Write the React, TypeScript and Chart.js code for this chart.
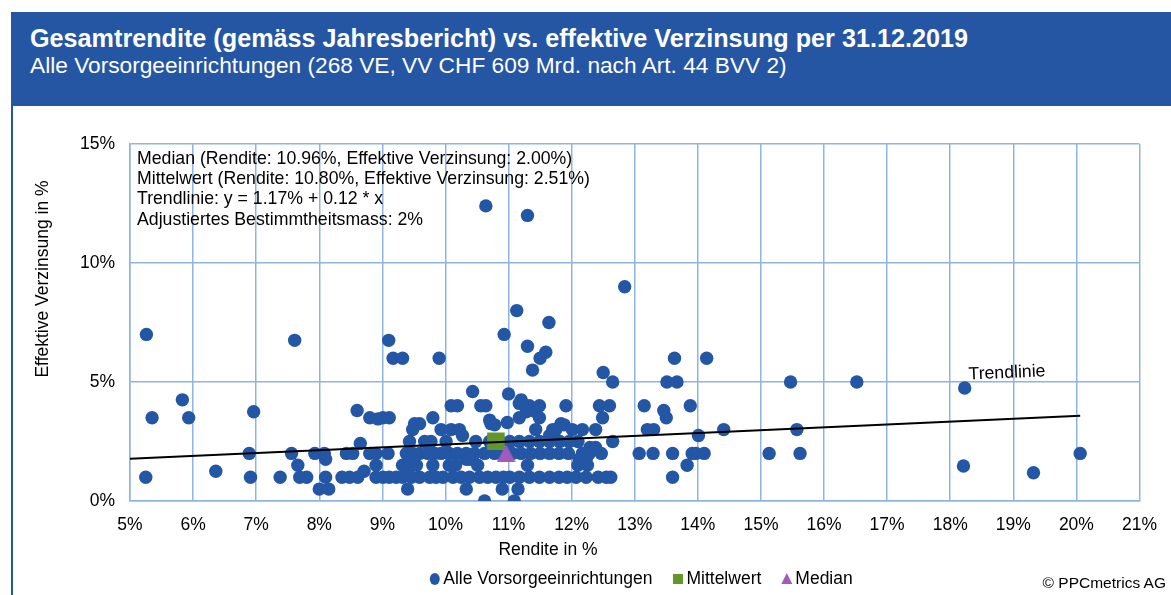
import React, { useEffect, useRef } from 'react';
import { Chart, registerables } from 'chart.js';

Chart.register(...registerables);

const FONT = '"Liberation Sans", Arial, sans-serif';
const BAND = '#2556a4';
const POINT_BLUE = '#2356a5';
const MITTEL_GREEN = '#62962b';
const MEDIAN_PURPLE = '#a05cbd';
const GRID = '#8fb4e3';

const titleText = 'Gesamtrendite (gemäss Jahresbericht) vs. effektive Verzinsung per 31.12.2019';
const subtitleText = 'Alle Vorsorgeeinrichtungen (268 VE, VV CHF 609 Mrd. nach Art. 44 BVV 2)';
const copyrightText = '© PPCmetrics AG';
const xAxisTitle = 'Rendite in %';
const yAxisTitle = 'Effektive Verzinsung in %';
const legendLabels = ['Alle Vorsorgeeinrichtungen', 'Mittelwert', 'Median'];
const statsLines = [
  'Median (Rendite: 10.96%, Effektive Verzinsung: 2.00%)',
  'Mittelwert (Rendite: 10.80%, Effektive Verzinsung: 2.51%)',
  'Trendlinie: y = 1.17% + 0.12 * x',
  'Adjustiertes Bestimmtheitsmass: 2%',
];
const trendLabel = 'Trendlinie';

// x-axis ticks (Rendite, %) and y-axis ticks (Effektive Verzinsung, %)
const xTickValues = [5, 6, 7, 8, 9, 10, 11, 12, 13, 14, 15, 16, 17, 18, 19, 20, 21];
const yTickValues = [0, 5, 10, 15];

// Alle Vorsorgeeinrichtungen: [Rendite %, Effektive Verzinsung %]
const highPoints: [number, number][] = [
  [10.64, 12.4], [11.3, 12.0], [12.84, 9.0], [11.13, 8.0], [11.64, 7.5],
  [5.26, 7.0], [10.93, 7.0], [7.61, 6.75], [9.1, 6.75], [11.3, 6.5],
  [11.59, 6.25], [9.17, 6.0], [9.32, 6.0], [9.9, 6.0], [11.5, 6.0],
  [13.63, 6.0], [14.14, 6.0], [11.38, 5.5], [12.5, 5.4], [12.65, 5.0],
  [13.51, 5.0], [13.67, 5.0], [15.47, 5.0], [16.52, 5.0], [18.23, 4.75],
  [10.43, 4.6], [11.0, 4.5], [5.83, 4.25], [11.2, 4.25],
];
const midPoints: [number, number][] = [
  [10.09, 4.0], [10.19, 4.0], [10.56, 4.0], [10.64, 4.0], [11.17, 4.1], [11.33, 4.0],
  [11.49, 4.0], [11.91, 4.0], [12.44, 4.0], [12.6, 4.0], [13.15, 4.0], [13.88, 4.0],
  [6.96, 3.75], [8.6, 3.8], [11.28, 3.75], [11.43, 3.75], [13.46, 3.8],
  [5.35, 3.5], [5.93, 3.5], [8.8, 3.5], [8.93, 3.45], [9.01, 3.5], [9.11, 3.5],
  [9.8, 3.5], [10.7, 3.4], [11.17, 3.5], [11.49, 3.5], [12.49, 3.5], [13.5, 3.5],
  [9.51, 3.25], [9.59, 3.25], [10.72, 3.25], [10.78, 3.2], [10.98, 3.3], [11.83, 3.25], [11.88, 3.2],
  [9.48, 3.0], [9.93, 3.0], [10.09, 3.0], [10.22, 3.0], [11.43, 3.0], [11.7, 3.0], [11.75, 3.0],
  [12.01, 3.0], [12.17, 3.0], [12.38, 3.0], [13.2, 3.0], [13.3, 3.0], [14.41, 3.0], [15.57, 3.0],
  [10.27, 2.75], [11.65, 2.75], [14.01, 2.75],
];
const lowPoints: [number, number][] = [
  [8.65, 2.42], [9.43, 2.5], [9.67, 2.5], [9.77, 2.5], [10.01, 2.5], [10.48, 2.5], [10.7, 2.5],
  [10.86, 2.5], [11.02, 2.5], [11.17, 2.5], [11.33, 2.5], [11.49, 2.5], [11.65, 2.5], [11.81, 2.5],
  [11.96, 2.5], [12.1, 2.5], [12.65, 2.5], [12.29, 2.25], [12.38, 2.25],
  [6.89, 2.0], [7.56, 2.0], [7.93, 2.0], [8.08, 2.0], [8.43, 2.0], [8.53, 2.0], [8.8, 2.0],
  [8.9, 2.0], [9.09, 2.0], [9.38, 2.0], [9.48, 2.0], [9.59, 2.0], [9.72, 2.0], [9.83, 2.0],
  [9.93, 2.0], [10.06, 2.0], [10.19, 2.0], [10.33, 2.0], [10.46, 2.0], [10.62, 2.0], [10.78, 2.0],
  [10.88, 2.0], [10.96, 2.0], [11.06, 2.0], [11.2, 2.0], [11.35, 2.0], [11.5, 2.0], [11.65, 2.0],
  [11.8, 2.0], [11.95, 2.0], [12.17, 2.0], [12.28, 2.0], [12.47, 2.0], [13.07, 2.0], [13.29, 2.0],
  [13.6, 2.0], [13.91, 2.0], [13.97, 2.0], [14.1, 2.0], [15.13, 2.0], [15.62, 2.0], [20.06, 2.0],
  [8.1, 1.75], [10.33, 1.75], [10.38, 1.75], [12.12, 1.75], [12.23, 1.75],
  [7.66, 1.5], [8.9, 1.5], [9.32, 1.5], [9.43, 1.5], [9.54, 1.5], [9.8, 1.5], [10.06, 1.5],
  [10.16, 1.5], [10.51, 1.5], [11.3, 1.5], [12.1, 1.5], [12.25, 1.5], [13.83, 1.5], [18.21, 1.47],
  [6.36, 1.25], [8.71, 1.25], [9.4, 1.25], [19.32, 1.19],
];
const bottomPoints: [number, number][] = [
  [5.25, 1.0], [6.91, 1.0], [7.38, 1.0], [7.69, 1.0], [7.8, 1.0], [8.1, 1.0], [8.36, 1.0],
  [8.48, 1.0], [8.61, 1.0], [8.9, 1.0], [9.01, 1.0], [9.11, 1.0], [9.22, 1.0], [9.32, 1.0],
  [9.46, 1.0], [9.59, 1.0], [9.75, 1.0], [9.85, 1.0], [9.96, 1.0], [10.12, 1.0], [10.25, 1.0],
  [10.38, 1.0], [10.54, 1.0], [10.67, 1.0], [10.8, 1.0], [10.92, 1.0], [11.02, 1.0], [11.17, 1.0],
  [11.33, 1.0], [11.49, 1.0], [11.65, 1.0], [11.8, 1.0], [11.93, 1.0], [12.07, 1.0], [12.23, 1.0],
  [12.42, 1.0], [12.55, 1.0], [12.62, 1.0], [13.6, 1.0],
  [8.0, 0.5], [8.15, 0.5], [9.4, 0.5], [10.33, 0.5], [10.9, 0.5], [11.15, 0.5],
  [10.62, 0.0], [11.09, 0.0],
];

const mittelwertPoint: [number, number] = [10.8, 2.51];
const medianPoint: [number, number] = [10.96, 2.0];
// Trendlinie end points (y = 1.17% + 0.12 * x)
const trendX = [5, 20.06];
const trendY = [1.77, 3.58];

function makeTriangle(color: string, w: number, h: number) {
  const c = document.createElement('canvas');
  c.width = w;
  c.height = h;
  const t = c.getContext('2d')!;
  t.fillStyle = color;
  t.beginPath();
  t.moveTo(w / 2, 0);
  t.lineTo(w, h);
  t.lineTo(0, h);
  t.closePath();
  t.fill();
  return c;
}

const overlayPlugin = {
  id: 'overlay',
  afterDraw(chart: any) {
    const { ctx, chartArea } = chart;
    ctx.save();
    ctx.fillStyle = '#000';
    ctx.font = `17.7px ${FONT}`;
    ctx.textBaseline = 'middle';
    ctx.textAlign = 'left';
    statsLines.forEach((t, i) => {
      ctx.fillText(t, chartArea.left + 7, chartArea.top + 15 + i * 20.3);
    });

    // Trendlinie label
    ctx.save();
    ctx.translate(1007, 373);
    ctx.rotate((-2.5 * Math.PI) / 180);
    ctx.textAlign = 'center';
    ctx.fillText(trendLabel, 0, 0);
    ctx.restore();

    ctx.font = `17.5px ${FONT}`;
    // axis titles
    ctx.textAlign = 'center';
    ctx.fillText(xAxisTitle, 548, 550);
    ctx.save();
    ctx.translate(43, 279);
    ctx.rotate(-Math.PI / 2);
    ctx.fillText(yAxisTitle, 0, 0);
    ctx.restore();

    // legend
    ctx.textAlign = 'left';
    const ly = 579;
    const marker = 11;
    const gapText = 3;
    const gapItem = 20;
    const widths = legendLabels.map((l) => ctx.measureText(l).width);
    const total = widths.reduce((a, w) => a + marker + gapText + w, 0) + gapItem * (legendLabels.length - 1);
    let x = 641 - total / 2;
    legendLabels.forEach((label, i) => {
      const cx = x + marker / 2;
      if (i === 0) {
        ctx.fillStyle = POINT_BLUE;
        ctx.beginPath();
        ctx.ellipse(cx, ly, 5, 6, 0, 0, Math.PI * 2);
        ctx.fill();
      } else if (i === 1) {
        ctx.fillStyle = MITTEL_GREEN;
        ctx.fillRect(cx - 5, ly - 5, 10, 10);
      } else {
        ctx.fillStyle = MEDIAN_PURPLE;
        ctx.beginPath();
        ctx.moveTo(cx, ly - 6);
        ctx.lineTo(cx + 5.5, ly + 5);
        ctx.lineTo(cx - 5.5, ly + 5);
        ctx.closePath();
        ctx.fill();
      }
      ctx.fillStyle = '#000';
      ctx.fillText(label, x + marker + gapText, ly);
      x += marker + gapText + widths[i] + gapItem;
    });
    ctx.restore();
  },
};

export default function App() {
  const canvasRef = useRef<HTMLCanvasElement | null>(null);

  useEffect(() => {
    if (!canvasRef.current) return;
    const allPoints = [...highPoints, ...midPoints, ...lowPoints, ...bottomPoints];
    const triangle = makeTriangle(MEDIAN_PURPLE, 19, 18);
    const chart = new Chart(canvasRef.current, {
      type: 'scatter',
      data: {
        datasets: [
          {
            label: 'Trendlinie',
            data: trendX.map((x, i) => ({ x, y: trendY[i] })),
            showLine: true,
            borderColor: '#000',
            borderWidth: 2,
            pointRadius: 0,
            order: 0,
          } as any,
          {
            label: legendLabels[2],
            data: [{ x: medianPoint[0], y: medianPoint[1] }],
            pointStyle: triangle as any,
            pointRadius: 10,
            backgroundColor: MEDIAN_PURPLE,
            borderWidth: 0,
            order: 1,
          },
          {
            label: legendLabels[1],
            data: [{ x: mittelwertPoint[0], y: mittelwertPoint[1] }],
            pointStyle: 'rect',
            pointRadius: 12.4,
            backgroundColor: MITTEL_GREEN,
            borderWidth: 0,
            order: 2,
          },
          {
            label: legendLabels[0],
            data: allPoints.map(([x, y]) => ({ x, y })),
            pointStyle: 'circle',
            pointRadius: 6.7,
            backgroundColor: POINT_BLUE,
            borderWidth: 0,
            order: 3,
          },
        ],
      },
      options: {
        responsive: false,
        animation: false,
        devicePixelRatio: 1,
        layout: { padding: { left: 0, top: 144, right: 30, bottom: 0 } },
        plugins: {
          legend: { display: false },
          tooltip: { enabled: false },
        },
        scales: {
          x: {
            type: 'linear',
            min: xTickValues[0],
            max: xTickValues[xTickValues.length - 1],
            afterBuildTicks: (scale: any) => {
              scale.ticks = xTickValues.map((v) => ({ value: v }));
            },
            afterFit: (scale: any) => {
              scale.height = 94;
            },
            ticks: {
              callback: (v: any) => `${v}%`,
              color: '#000',
              font: { family: FONT, size: 17.5 },
              padding: 14,
              maxRotation: 0,
              autoSkip: false,
            },
            grid: { color: GRID, lineWidth: 1.5, drawTicks: false },
            border: { display: true, color: GRID, width: 1.5 },
          },
          y: {
            type: 'linear',
            min: yTickValues[0],
            max: yTickValues[yTickValues.length - 1],
            afterBuildTicks: (scale: any) => {
              scale.ticks = yTickValues.map((v) => ({ value: v }));
            },
            afterFit: (scale: any) => {
              scale.width = 130;
            },
            ticks: {
              callback: (v: any) => `${v}%`,
              color: '#000',
              font: { family: FONT, size: 17.5 },
              padding: 15,
            },
            grid: { color: GRID, lineWidth: 1.5, drawTicks: false },
            border: { display: true, color: GRID, width: 1.5 },
          },
        },
      },
      plugins: [overlayPlugin],
    });
    return () => chart.destroy();
  }, []);

  return (
    <div
      style={{
        position: 'fixed',
        left: 0,
        top: 0,
        width: 1171,
        height: 595,
        background: '#fff',
        overflow: 'hidden',
        fontFamily: FONT,
      }}
    >
      <div style={{ position: 'absolute', left: 11, top: 12, width: 2, height: 583, background: BAND }} />
      <div style={{ position: 'absolute', left: 11, top: 12, width: 1160, height: 94, background: BAND }}>
        <div
          style={{
            position: 'absolute',
            left: 19,
            top: 14,
            color: '#fff',
            fontWeight: 'bold',
            fontSize: 25.2,
            lineHeight: '25px',
            whiteSpace: 'nowrap',
          }}
        >
          {titleText}
        </div>
        <div
          style={{
            position: 'absolute',
            left: 19,
            top: 42,
            color: '#fff',
            fontSize: 22.7,
            lineHeight: '22.7px',
            whiteSpace: 'nowrap',
          }}
        >
          {subtitleText}
        </div>
      </div>
      <canvas
        ref={canvasRef}
        width={1171}
        height={595}
        style={{ position: 'absolute', left: 0, top: 0, width: 1171, height: 595 }}
      />
      <div
        style={{
          position: 'absolute',
          right: 5,
          top: 574,
          fontSize: 15.5,
          lineHeight: '18px',
          color: '#000',
          whiteSpace: 'nowrap',
        }}
      >
        {copyrightText}
      </div>
    </div>
  );
}
